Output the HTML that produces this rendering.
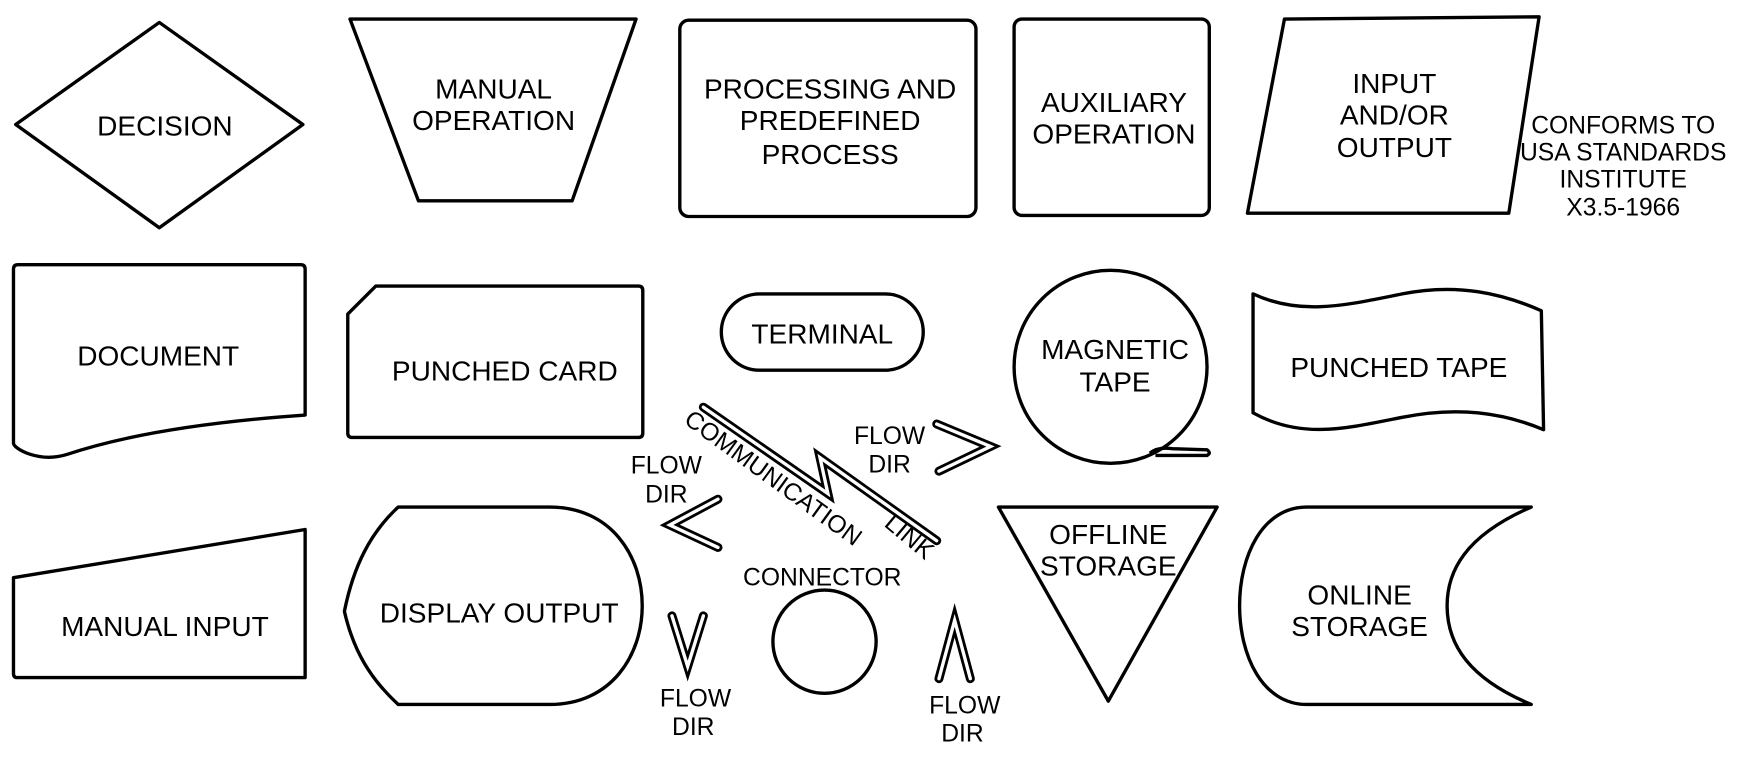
<!DOCTYPE html>
<html><head><meta charset="utf-8"><style>
html,body{margin:0;padding:0;background:#fff;}
svg{display:block;}
text{font-family:"Liberation Sans",Arial,sans-serif;fill:#000;text-anchor:middle;}
.m{font-size:25px;}
.s{font-size:22px;}
</style></head><body>
<svg width="1750" height="783" viewBox="0 0 1560 698" xmlns="http://www.w3.org/2000/svg">
<g fill="none" stroke="#000" stroke-width="3" stroke-linejoin="round">
<!-- decision -->
<polygon points="14,111 142,20 270,111 142,203"/>
<!-- manual operation -->
<polygon points="312,17 567,17 510,179 373,179"/>
<!-- processing -->
<rect x="606" y="18" width="264" height="175" rx="8"/>
<!-- auxiliary -->
<rect x="904" y="17" width="174" height="175" rx="7"/>
<!-- io -->
<polygon points="1145,17 1372,15 1345,190 1112,190"/>
<!-- document -->
<path d="M12,240 Q12,236 16,236 L268,236 Q272,236 272,240 L272,370 C200,375 120,385 60,405 C35,413 12,400 12,395 Z"/>
<!-- punched card -->
<path d="M335,255 L569,255 Q573,255 573,259 L573,386 Q573,390 569,390 L314,390 Q310,390 310,386 L310,280 Z"/>
<!-- terminal -->
<rect x="643" y="262" width="180" height="68" rx="34"/>
<!-- magnetic tape -->
<circle cx="990" cy="327" r="86"/>
<path d="M1025,404 Q1032,398 1045,400 L1076,401 Q1080,404 1076,406 L1030,406"/>
<!-- punched tape -->
<path d="M1117,262 C1160,282 1200,272 1250,262 C1300,252 1340,262 1374,277 L1376,383 C1340,368 1300,362 1250,372 C1200,382 1160,392 1117,368 Z"/>
<!-- manual input -->
<path d="M12,515 L272,472 L272,604 L15,604 Q12,604 12,600 Z"/>
<!-- display output -->
<path d="M355,452 L490,452 C600,452 600,628 490,628 L355,628 C330,605 315,580 307,545 C315,505 330,475 355,452 Z"/>
<!-- connector -->
<circle cx="735" cy="572" r="46"/>
<!-- offline storage -->
<polygon points="890,452 1085,452 988,625"/>
<!-- online storage -->
<path d="M1165,452 L1365,452 C1305,478 1290,510 1290,540 C1290,575 1310,605 1365,628 L1165,628 C1085,628 1085,452 1165,452 Z"/>
</g>
<!-- double-line symbols -->
<g fill="none" stroke-linejoin="miter" stroke-linecap="round">
<g stroke="#000" stroke-width="8">
<path d="M627,363 L738,440 L731,408 L835,482"/>
<path d="M640,445 L597,468 L640,488"/>
<path d="M835,378 L883,398 L837,420"/>
<path d="M599,549 L613,594 L627,549"/>
<path d="M837,605 L851,553 L865,605"/>
</g>
<g stroke="#fff" stroke-width="3">
<path d="M627,363 L738,440 L731,408 L835,482"/>
<path d="M640,445 L597,468 L640,488"/>
<path d="M835,378 L883,398 L837,420"/>
<path d="M599,549 L613,594 L627,549"/>
<path d="M837,605 L851,553 L865,605"/>
</g>
</g>
<!-- labels -->
<text class="m" x="147" y="121">DECISION</text>
<text class="m" x="440" y="88">MANUAL</text>
<text class="m" x="440" y="116">OPERATION</text>
<text class="m" x="740" y="88">PROCESSING AND</text>
<text class="m" x="740" y="116">PREDEFINED</text>
<text class="m" x="740" y="146">PROCESS</text>
<text class="m" x="993" y="100">AUXILIARY</text>
<text class="m" x="993" y="128">OPERATION</text>
<text class="m" x="1243" y="83">INPUT</text>
<text class="m" x="1243" y="111">AND/OR</text>
<text class="m" x="1243" y="140">OUTPUT</text>
<text class="s" x="1447" y="119">CONFORMS TO</text>
<text class="s" x="1447" y="143">USA STANDARDS</text>
<text class="s" x="1447" y="167">INSTITUTE</text>
<text class="s" x="1447" y="192">X3.5-1966</text>
<text class="m" x="141" y="326">DOCUMENT</text>
<text class="m" x="450" y="339">PUNCHED CARD</text>
<text class="m" x="733" y="306">TERMINAL</text>
<text class="m" x="994" y="320">MAGNETIC</text>
<text class="m" x="994" y="349">TAPE</text>
<text class="m" x="1247" y="336">PUNCHED TAPE</text>
<text class="m" x="147" y="567">MANUAL INPUT</text>
<text class="m" x="445" y="555">DISPLAY OUTPUT</text>
<text class="m" x="988" y="485">OFFLINE</text>
<text class="m" x="988" y="513">STORAGE</text>
<text class="m" x="1212" y="539">ONLINE</text>
<text class="m" x="1212" y="567">STORAGE</text>
<text class="s" x="733" y="522">CONNECTOR</text>
<text class="s" x="594" y="422">FLOW</text>
<text class="s" x="594" y="448">DIR</text>
<text class="s" x="793" y="396">FLOW</text>
<text class="s" x="793" y="421">DIR</text>
<text class="s" x="620" y="630">FLOW</text>
<text class="s" x="618" y="655">DIR</text>
<text class="s" x="860" y="636">FLOW</text>
<text class="s" x="858" y="661">DIR</text>
<text class="s" transform="translate(685,432) rotate(36)">COMMUNICATION</text>
<text class="s" transform="translate(806,484) rotate(40)">LINK</text>
</svg>
</body></html>
